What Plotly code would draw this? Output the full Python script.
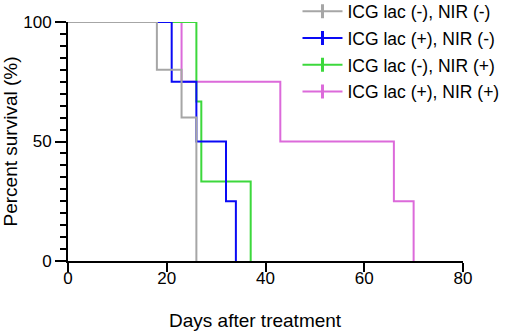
import plotly.graph_objects as go

# Data (step points: time in days, percent survival)
names = ["ICG lac (-), NIR (-)", "ICG lac (+), NIR (-)", "ICG lac (-), NIR (+)", "ICG lac (+), NIR (+)"]
colors = ["#A6A6A6", "#0A0AF5", "#3CD83C", "#DC6ADA"]
gray_t = [0, 18, 23, 26]
gray_s = [100, 80, 60, 0]
blue_t = [0, 21, 26, 32, 34]
blue_s = [100, 75, 50, 25, 0]
green_t = [0, 26, 27, 37]
green_s = [100, 66.7, 33.3, 0]
pink_t = [0, 23, 43, 66, 70]
pink_s = [100, 75, 50, 25, 0]
series_t = [gray_t, blue_t, green_t, pink_t]
series_s = [gray_s, blue_s, green_s, pink_s]
x_title = "Days after treatment"
y_title = "Percent survival (%)"

fig = go.Figure()
# draw in reverse so gray is on top
for i in reversed(range(4)):
    fig.add_trace(go.Scatter(x=series_t[i], y=series_s[i], mode="lines", line_shape="hv",
                             line=dict(color=colors[i], width=2), showlegend=False,
                             cliponaxis=False, hoverinfo="skip"))
# legend entries
for i in range(4):
    fig.add_trace(go.Scatter(x=[None], y=[None], mode="lines+markers", name=names[i],
                             line=dict(color=colors[i], width=2),
                             marker=dict(symbol="line-ns", size=10, line=dict(color=colors[i], width=3)),
                             legendgroup=str(i)))

font = "Liberation Sans, Arial, sans-serif"
fig.update_layout(
    width=505, height=332,
    margin=dict(l=68, r=42, t=22, b=71, autoexpand=False),
    paper_bgcolor="white", plot_bgcolor="white",
    font=dict(family=font, size=17, color="black"),
    showlegend=True,
    legend=dict(x=0.581, y=1.12, xanchor="left", yanchor="top", bgcolor="rgba(0,0,0,0)",
                font=dict(size=17.5), traceorder="grouped", tracegroupgap=1, itemwidth=40),
    xaxis=dict(range=[0, 80], tickmode="linear", tick0=0, dtick=20, showgrid=False, zeroline=False,
               showline=True, linecolor="black", linewidth=2,
               ticks="outside", ticklen=9, tickwidth=2, tickcolor="black",
               tickfont=dict(size=17), ticklabelstandoff=-8),
    yaxis=dict(range=[0, 100], tickmode="linear", tick0=0, dtick=50, showgrid=False, zeroline=False,
               showline=True, linecolor="black", linewidth=2,
               ticks="outside", ticklen=11, tickwidth=2, tickcolor="black",
               tickfont=dict(size=17),
               minor=dict(dtick=5, ticks="outside", ticklen=6, tickwidth=2, tickcolor="black", showgrid=False),
               title=dict(text=y_title, font=dict(size=19), standoff=1)),
    annotations=[dict(text=x_title, xref="paper", yref="paper", x=0.4747, y=-0.247,
                      xanchor="center", yanchor="middle", showarrow=False, font=dict(size=19))],
)
fig.write_html("out.html", config={"displayModeBar": False},
               post_script="document.body.style.margin='0px';")
